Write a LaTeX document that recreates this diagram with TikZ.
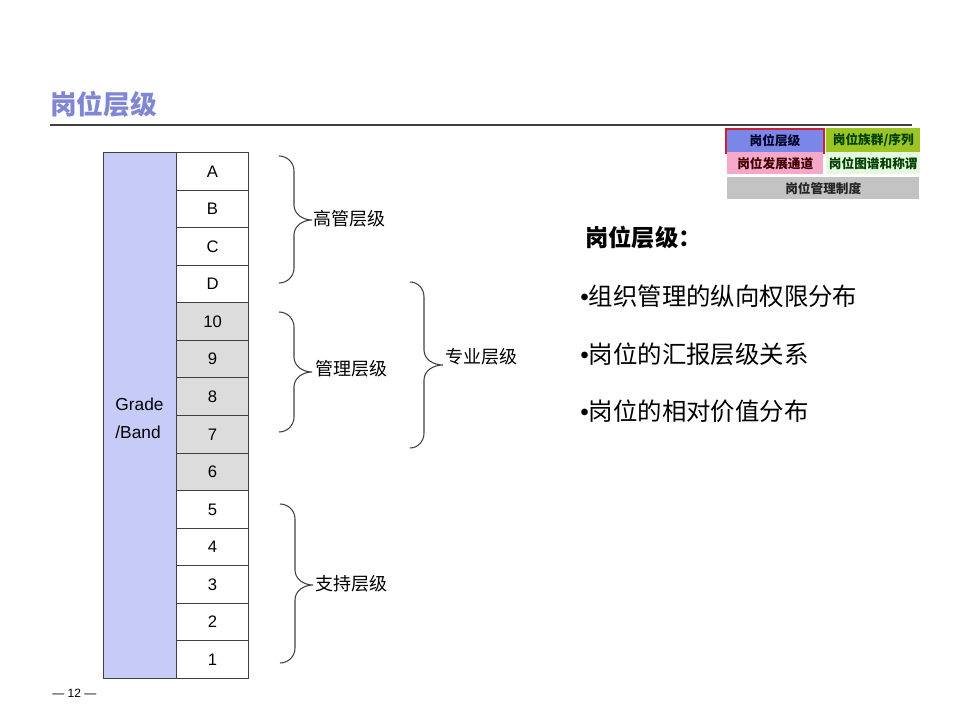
\documentclass[tikz,border=0pt]{standalone}
\usepackage{fontspec}
\setmainfont{Liberation Sans}
\newfontfamily\cjk{Noto Sans CJK SC}
\definecolor{titleblue}{HTML}{7F86D4}
\definecolor{lavender}{HTML}{C7CBF8}
\definecolor{cellgray}{HTML}{DCDCDC}
\definecolor{linegray}{HTML}{404040}
\definecolor{legblue}{HTML}{7B87E8}
\definecolor{legred}{HTML}{D02030}
\definecolor{legolive}{HTML}{9CC424}
\definecolor{legpink}{HTML}{F5A8CA}
\definecolor{leglgreen}{HTML}{E6F9E0}
\definecolor{leggray}{HTML}{C3C3C3}
\newcommand{\bul}{{\rmfamily\mdseries •}}
\begin{document}
\begin{tikzpicture}[x=0.75pt,y=-0.75pt,
  cell/.style={draw=linegray,line width=0.8pt,minimum width=54pt,minimum height=28.2pt,inner sep=0pt,anchor=north west,font=\fontsize{12.5pt}{14pt}\selectfont},
  bracepath/.style={draw=linegray,line width=0.8pt},
  blabel/.style={anchor=west,inner sep=0pt,font=\cjk\fontsize{13.5pt}{16pt}\selectfont},
  bullet/.style={anchor=west,inner sep=0pt,font=\cjk\fontsize{18.3pt}{22pt}\selectfont},
  leg/.style={anchor=north west,inner sep=0pt,font=\cjk\bfseries\fontsize{9.5pt}{11pt}\selectfont}]
\useasboundingbox (0,0) rectangle (960,720);
% title
\node[anchor=west,inner sep=0pt,text=titleblue,font=\cjk\bfseries\fontsize{20pt}{24pt}\selectfont] (title) at (50,104) {岗位层级};
\draw[linegray,line width=0.8pt] (50,125) coordinate (tl1) -- (912,125) coordinate (tl2);
% legend
\node[leg,fill=legblue,draw=legred,line width=1.5pt,minimum width=73.5pt,minimum height=18pt,text=black!70!blue!50!black] (l1) at (725,128) {岗位层级};
\node[leg,fill=legolive,minimum width=70.5pt,minimum height=18pt,text=black!75!green] (l2) at (826,128) {岗位族群/序列};
\node[leg,fill=legpink,minimum width=72pt,minimum height=16.5pt,text=black!75!red] (l3) at (727,152) {岗位发展通道};
\node[leg,fill=leglgreen,minimum width=70.5pt,minimum height=16.5pt,text=black!75!green] (l4) at (826,152) {岗位图谱和称谓};
\node[leg,fill=leggray,minimum width=144pt,minimum height=16.5pt,text=black!85] (l5) at (727,177) {岗位管理制度};
% grade column
\node[draw=linegray,line width=0.8pt,fill=lavender,anchor=north west,minimum width=54.75pt,minimum height=394.5pt,inner sep=0pt] (gb) at (103,152) {};
\node[align=left,inner sep=0pt,font=\fontsize{13pt}{21pt}\selectfont] (gbt) at (139.5,418) {Grade\\/Band};
% cells
\foreach \lab/\fc [count=\i from 0] in {A/white,B/white,C/white,D/white,10/cellgray,9/cellgray,8/cellgray,7/cellgray,6/cellgray,5/white,4/white,3/white,2/white,1/white}{
  \node[cell,fill=\fc] (c\i) at (176,{152+\i*37.57}) {\lab};
}
% braces
\newcommand{\bracedraw}[7]{% x0, xv, xtip, ytop, ybot, ymid, r
  \draw[bracepath] (#1,#4) to[out=0,in=90] (#2,#4+#7) -- (#2,#6-#7) to[out=-90,in=180] (#3,#6)
    to[out=180,in=90] (#2,#6+#7) -- (#2,#5-#7) to[out=-90,in=0] (#1,#5);}
\bracedraw{279}{294}{312}{156}{283}{220}{15}
\bracedraw{279}{294}{312}{312}{432}{372}{15}
\bracedraw{410}{424}{443}{282}{448}{365}{15}
\bracedraw{280}{295}{313}{504}{663}{585}{15}
\node[blabel] (b1) at (313,219) {高管层级};
\node[blabel] (b2) at (315,369) {管理层级};
\node[blabel] (b3) at (445,357) {专业层级};
\node[blabel] (b4) at (315,584) {支持层级};
% right text
\node[anchor=west,inner sep=0pt,font=\cjk\bfseries\fontsize{17.5pt}{21pt}\selectfont] (h) at (585,238) {岗位层级：};
\node[bullet] (p1) at (580,296) {\bul 组织管理的纵向权限分布};
\node[bullet] (p2) at (580,354) {\bul 岗位的汇报层级关系};
\node[bullet] (p3) at (580,411) {\bul 岗位的相对价值分布};
% page number
\node[anchor=west,inner sep=0pt,font=\fontsize{9pt}{11pt}\selectfont] (pg) at (52,693) {— 12 —};
\end{tikzpicture}
\end{document}
